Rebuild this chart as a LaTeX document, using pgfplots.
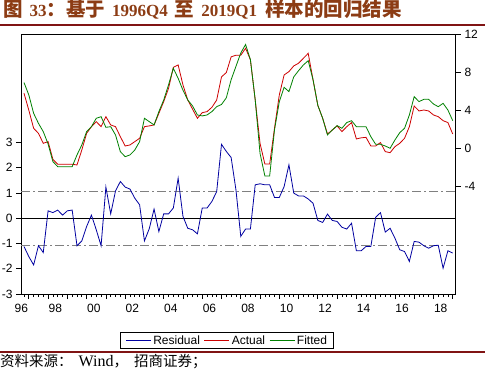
\documentclass[border=0pt]{standalone}
\usepackage{pgfplots}
\pgfplotsset{compat=1.18}
\usepackage{pgfplotstable}
\usepackage{fontspec}
\setmainfont{Liberation Sans}
\newfontfamily\cjk{Noto Sans CJK SC}
\newfontfamily\serif{Liberation Serif}
\definecolor{resblue}{RGB}{0,0,160}
\definecolor{actred}{RGB}{204,0,0}
\definecolor{fitgreen}{RGB}{0,128,0}
\definecolor{titlebrown}{RGB}{140,60,20}
\definecolor{rulered}{RGB}{128,20,20}
\definecolor{refgray}{RGB}{128,128,128}

\pgfplotstableread{
i r
0 -1.12
1 -1.52
2 -1.85
3 -1.09
4 -1.36
5 0.29
6 0.22
7 0.32
8 0.12
9 0.29
10 0.32
11 -1.09
12 -0.90
13 -0.33
14 0.12
15 -0.46
16 -1.09
17 1.23
18 0.17
19 1.08
20 1.45
21 1.23
22 1.15
23 0.79
24 0.53
25 -0.90
26 -0.42
27 0.36
28 -0.53
29 0.17
30 0.17
31 0.40
32 1.58
33 0.07
34 -0.40
35 -0.46
36 -0.62
37 0.40
38 0.40
39 0.66
40 1.05
41 2.92
42 2.64
43 2.40
44 1.12
45 -0.72
46 -0.43
47 -0.43
48 1.32
49 1.36
50 1.32
51 1.32
52 0.82
53 0.82
54 1.25
55 2.11
56 0.99
57 0.88
58 0.88
59 0.76
60 0.59
61 -0.09
62 -0.17
63 0.16
64 -0.09
65 -0.13
66 -0.36
67 -0.43
68 -0.20
69 -1.29
70 -1.29
71 -1.12
72 -1.12
73 0.03
74 0.22
75 -0.55
76 -0.40
77 -0.79
78 -1.25
79 -1.32
80 -1.71
81 -0.92
82 -0.95
83 -1.09
84 -1.19
85 -1.09
86 -1.07
87 -1.98
88 -1.29
89 -1.38
}\residual

\pgfplotstableread{
i a f
0 5.78 6.9
1 4.0 5.6
2 2.1 3.67
3 1.57 2.62
4 0.52 1.75
5 0.7 0.45
6 -1.16 -1.4
7 -1.68 -1.93
8 -1.68 -1.93
9 -1.68 -1.93
10 -1.68 -1.93
11 -1.75 -0.7
12 -0.18 0.35
13 1.57 1.75
14 2.27 2.27
15 2.8 3.15
16 2.27 3.32
17 3.32 2.2
18 2.45 2.27
19 2.27 1.4
20 1.22 -0.35
21 0.24 -0.88
22 0.35 -0.7
23 0.7 -0.18
24 1.05 0.7
25 2.27 3.15
26 2.35 2.8
27 2.45 2.45
28 3.67 3.85
29 4.9 5.07
30 6.28 6.65
31 8.5 8.4
32 8.75 7.35
33 6.65 6.1
34 5.07 5.07
35 4.1 4.44
36 3.15 3.5
37 3.74 3.4
38 3.85 3.5
39 4.3 3.85
40 5.07 4.37
41 7.5 4.6
42 7.95 5.3
43 9.6 7.2
44 9.77 8.6
45 9.77 10.0
46 10.5 10.9
47 9.3 9.3
48 5.07 5.07
49 0.52 -0.53
50 -1.65 -2.9
51 -1.65 -2.9
52 2.1 1.92
53 5.6 4.9
54 7.7 6.4
55 8.05 5.95
56 8.65 7.5
57 8.93 8.15
58 9.45 8.75
59 9.97 9.2
60 7.2 7.2
61 4.5 4.5
62 3.15 3.15
63 1.5 1.4
64 1.92 1.92
65 2.35 2.38
66 1.75 2.1
67 2.27 2.7
68 2.7 2.9
69 0.98 2.27
70 1.1 2.27
71 1.15 2.27
72 0.24 1.22
73 0.24 0.42
74 0.6 0.42
75 -0.35 0.24
76 -0.46 0.0
77 0.17 0.87
78 0.52 1.64
79 1.05 2.1
80 2.27 3.5
81 4.44 5.42
82 3.92 4.9
83 4.02 5.14
84 3.92 5.14
85 3.5 4.65
86 3.32 4.37
87 2.9 4.72
88 2.7 4.02
89 1.5 2.9
}\actfit

\begin{document}
\begin{tikzpicture}[x=1pt,y=1pt]
\path[use as bounding box] (0,0) rectangle (485,373);
% title
\node[anchor=base west, inner sep=0, text=titlebrown] at (3,356.3)
  {{\cjk\bfseries\fontsize{19.5}{20}\selectfont 图}\hspace{7pt}{\serif\bfseries\fontsize{17}{17}\selectfont 33}{\cjk\bfseries\fontsize{19.5}{20}\selectfont ：基于}\hspace{7pt}{\serif\bfseries\fontsize{17}{17}\selectfont 1996Q4}\hspace{7pt}{\cjk\bfseries\fontsize{19.5}{20}\selectfont 至}\hspace{7pt}{\serif\bfseries\fontsize{17}{17}\selectfont 2019Q1}\hspace{8pt}{\cjk\bfseries\fontsize{19.5}{20}\selectfont 样本的回归结果}};
\draw[rulered, line width=1.3pt] (0,348) -- (485,348);
% source
\draw[rulered, line width=1.2pt] (0,21) -- (485,21);
\node[anchor=base west, inner sep=0] at (0,6.5)
  {{\cjk\fontsize{14.5}{15}\selectfont 资料来源：}\hspace{6pt}{\serif\fontsize{16}{16}\selectfont Wind}{\cjk\fontsize{14.5}{15}\selectfont ，}\hspace{6pt}{\cjk\fontsize{14.5}{15}\selectfont 招商证券；}};

\begin{axis}[
  at={(21pt,79pt)}, anchor=south west,
  scale only axis, width=435pt, height=260pt,
  xmin=-0.623, xmax=89.68,
  ymin=-3, ymax=7.285,
  axis line style={line width=1pt},
  tick align=outside,
  xtick pos=left, ytick pos=left,
  tick style={black, line width=0.7pt},
  major tick length=5pt, minor tick length=3pt,
  xtick={1,5,...,89}, xticklabels={},
  minor xtick={0,...,89},
  extra x ticks={-0.55,6.5,14.5,22.5,30.5,38.5,46.5,54.5,62.5,70.5,78.5,86.5},
  extra x tick labels={96,98,00,02,04,06,08,10,12,14,16,18},
  extra x tick style={major tick length=0pt, tick label style={yshift=-7pt}},
  ytick={-3,-2,-1,0,1,2,3},
  yticklabels={-3,-2,-1,0,1,2,3},
  tick label style={font=\fontsize{12}{13}\selectfont},
  clip=false,
]
\addplot[refgray, line width=0.8pt, dash pattern=on 9pt off 3pt on 2pt off 3pt] coordinates {(-0.623,1.06) (89.68,1.06)};
\addplot[refgray, line width=0.8pt, dash pattern=on 9pt off 3pt on 2pt off 3pt] coordinates {(-0.623,-1.06) (89.68,-1.06)};
\addplot[black, line width=1pt] coordinates {(-0.623,0) (89.68,0)};
\addplot[resblue, line width=0.8pt] table[x=i, y=r] {\residual};
\end{axis}

\begin{axis}[
  at={(21pt,79pt)}, anchor=south west,
  scale only axis, width=435pt, height=260pt,
  xmin=-0.623, xmax=89.68,
  ymin=-15.3, ymax=12,
  axis x line=none,
  axis y line*=right,
  axis line style={line width=1pt, -},
  tick align=outside,
  tick style={black, line width=0.7pt},
  major tick length=5pt,
  ytick={-4,0,4,8,12},
  yticklabels={-4,0,4,8,12},
  tick label style={font=\fontsize{12}{13}\selectfont},
  legend columns=3,
  legend style={at={(axis description cs:0.2276,-0.146)}, anchor=north west,
    draw=black, line width=1pt, font=\fontsize{12}{13}\selectfont,
    inner xsep=5pt, inner ysep=1pt,
    /tikz/every even column/.append style={column sep=2pt}},
  legend image code/.code={\draw[#1] (0pt,0pt) -- (25pt,0pt);},
]
\addlegendimage{resblue, line width=0.8pt}
\addlegendentry{Residual\hspace{5pt}}
\addplot[actred, line width=0.8pt] table[x=i, y=a] {\actfit};
\addlegendentry{Actual\hspace{5pt}}
\addplot[fitgreen, line width=0.8pt] table[x=i, y=f] {\actfit};
\addlegendentry{Fitted}
\end{axis}
\end{tikzpicture}
\end{document}
